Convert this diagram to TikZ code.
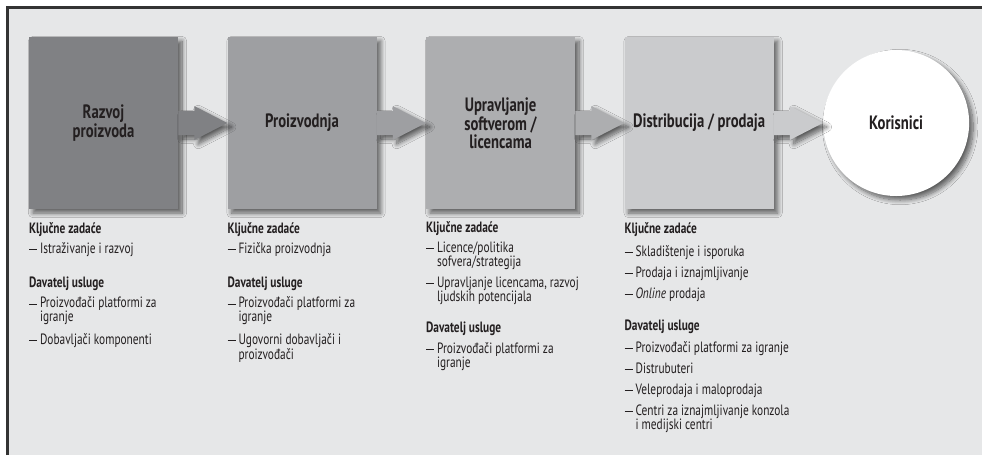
\documentclass[tikz,border=0pt]{standalone}
\usepackage{fontspec}
\setmainfont{PT Sans}[FakeStretch=0.76]
\usepackage{tikz}
\usetikzlibrary{positioning,calc,shadows.blur}
\definecolor{okvir}{HTML}{333333}
\definecolor{podloga}{HTML}{E6E7E8}
\definecolor{tinta}{HTML}{231F20}
\definecolor{sivaA}{HTML}{808184}
\definecolor{sivaB}{HTML}{9E9FA2}
\definecolor{sivaC}{HTML}{ADAEB0}
\definecolor{sivaD}{HTML}{CACBCD}
\newcommand{\crta}{\makebox[8.25pt][l]{\rule[2.7pt]{6.2pt}{0.6pt}}}
\newcommand{\uvuci}{\hspace*{8.25pt}}
\tikzset{sjena/.style={blur shadow={shadow xshift=3pt,shadow yshift=-3pt,shadow blur radius=3.5pt,shadow blur steps=10,shadow opacity=60}},faza/.style={sjena,minimum width=111.75pt,minimum height=129pt,inner sep=0pt,align=center,text=tinta,font=\fontsize{14.5}{12}\selectfont\bfseries},tok/.style={sjena},opis/.style={align=left,inner sep=0pt,text=tinta,font=\fontsize{11.2}{10.5}\selectfont}}

\begin{document}
\begin{tikzpicture}[x=0.75pt,y=-0.75pt,node distance=36.75pt]
\useasboundingbox (0,0) rectangle (982,455);
\fill[white] (0,0) rectangle (982,455);
\fill[podloga] (7.5,7.5) rectangle (982,455);
\draw[okvir,line width=1.8pt] (7.5,455) -- (7.5,7.5) -- (982,7.5);
% faze lanca vrijednosti
\node[faza,fill=sivaA] (r1) at (103.5,123) {Razvoj\\proizvoda};
\node[faza,fill=sivaB,right=of r1] (r2) {Proizvodnja};
\node[faza,fill=sivaC,right=of r2] (r3) {Upravljanje\\softverom /\\licencama};
\node[faza,fill=sivaD,right=of r3] (r4) {Distribucija / prodaja};
\node[faza,circle,fill=white,minimum size=109.5pt,right=of r4] (kor) {Korisnici};
% strelice
\foreach \a/\b/\c in {r1/r2/sivaA,r2/r3/sivaB,r3/r4/sivaC,r4/kor/sivaD}
  \fill[\c,tok] ([yshift=9pt]\a.east) -- ([xshift=-24.75pt,yshift=9pt]\b.west) -- ([xshift=-24.75pt,yshift=12.75pt]\b.west) -- (\b.west) -- ([xshift=-24.75pt,yshift=-12.75pt]\b.west) -- ([xshift=-24.75pt,yshift=-9pt]\b.west) -- ([yshift=-9pt]\a.east) -- cycle;
% opisi
\node[opis,below right=10pt and 0pt of r1.south west] (o1) {\textbf{Ključne zadaće}\\[3.5pt]
\crta Istraživanje i razvoj\\[15pt]
\textbf{Davatelj usluge}\\[3.5pt]
\crta Proizvođači platformi za\\ \uvuci igranje\\[5.25pt]
\crta Dobavljači komponenti};
\node[opis,below right=10pt and 0pt of r2.south west] (o2) {\textbf{Ključne zadaće}\\[3.5pt]
\crta Fizička proizvodnja\\[15pt]
\textbf{Davatelj usluge}\\[3.5pt]
\crta Proizvođači platformi za\\ \uvuci igranje\\[5.25pt]
\crta Ugovorni dobavljači i\\ \uvuci proizvođači};
\node[opis,below right=9pt and 0pt of r3.south west] (o3) {\textbf{Ključne zadaće}\\[4.5pt]
\crta Licence/politika\\ \uvuci sofvera/strategija\\[5.25pt]
\crta Upravljanje licencama, razvoj\\ \uvuci ljudskih potencijala\\[12.5pt]
\textbf{Davatelj usluge}\\[4.5pt]
\crta Proizvođači platformi za\\ \uvuci igranje};
\node[opis,below right=10pt and 0pt of r4.south west] (o4) {\textbf{Ključne zadaće}\\[5.25pt]
\crta Skladištenje i isporuka\\[5.25pt]
\crta Prodaja i iznajmljivanje\\[5.25pt]
\crta \textit{Online} prodaja\\[14pt]
\textbf{Davatelj usluge}\\[4.5pt]
\crta Proizvođači platformi za igranje\\[5.25pt]
\crta Distrubuteri\\[5.25pt]
\crta Veleprodaja i maloprodaja\\[5.25pt]
\crta Centri za iznajmljivanje konzola\\ \uvuci i medijski centri};
\end{tikzpicture}
\end{document}
